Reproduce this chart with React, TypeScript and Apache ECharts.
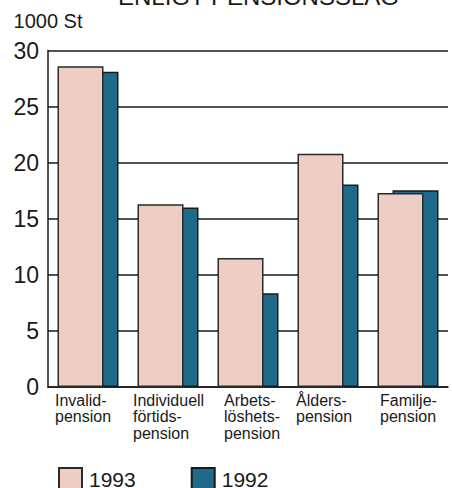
import React, { useEffect, useRef } from "react";
import * as echarts from "echarts";

const titleText = "ENLIGT PENSIONSSLAG";
const yAxisName = "1000 St";
const categories = [
  "Invalid-\npension",
  "Individuell\nförtids-\npension",
  "Arbets-\nlöshets-\npension",
  "Ålders-\npension",
  "Familje-\npension",
];
const seriesNames = ["1993", "1992"];
const values1993 = [28.6, 16.3, 11.5, 20.8, 17.3];
const values1992 = [28.1, 16.0, 8.35, 18.05, 17.55];

const FONT = '"Liberation Sans", Arial, Helvetica, sans-serif';
const labelBoxWidths = [66, 70, 48, 64, 56];

export default function App() {
  const ref = useRef<HTMLDivElement>(null);
  useEffect(() => {
    if (!ref.current) return;
    const chart = echarts.init(ref.current, undefined, { renderer: "svg" });
    const rich: Record<string, any> = {};
    labelBoxWidths.forEach((w, i) => {
      rich["a" + i] = {
        width: w,
        align: "left",
        fontFamily: FONT,
        fontSize: 16,
        lineHeight: 16.5,
        color: "#1a1a1a",
      };
    });
    chart.setOption({
      animation: false,
      backgroundColor: "#ffffff",
      textStyle: { fontFamily: FONT },
      title: {
        text: titleText,
        left: 118,
        top: -16,
        padding: 0,
        textStyle: { fontFamily: FONT, fontSize: 24, fontWeight: "normal", color: "#1a1a1a" },
      },
      legend: {
        left: 58,
        top: 467,
        padding: 0,
        itemWidth: 23,
        itemHeight: 23,
        itemGap: 55,
        icon: "rect",
        textStyle: {
          fontFamily: FONT,
          fontSize: 21,
          lineHeight: 18,
          color: "#1a1a1a",
          padding: [0, 0, 0, 2],
        },
        data: seriesNames,
      },
      grid: { left: 48, right: 4, top: 50.5, bottom: 101, containLabel: false },
      xAxis: {
        type: "category",
        data: categories,
        axisLine: { show: true, lineStyle: { color: "#1a1a1a", width: 1.5 } },
        axisTick: { show: false },
        axisLabel: {
          interval: 0,
          margin: 5,
          formatter: (v: string, i: number) =>
            v.split("\n").map((l) => `{a${i}|${l}}`).join("\n"),
          rich,
        },
      },
      yAxis: {
        type: "value",
        min: 0,
        max: 30,
        interval: 5,
        name: yAxisName,
        nameLocation: "end",
        nameGap: 20,
        nameTextStyle: { fontFamily: FONT, fontSize: 20, color: "#1a1a1a", align: "center" },
        axisLine: { show: true, lineStyle: { color: "#1a1a1a", width: 1.5 } },
        axisTick: { show: false },
        axisLabel: { margin: 9, fontFamily: FONT, fontSize: 23, color: "#1a1a1a" },
        splitLine: { show: true, lineStyle: { color: "#1a1a1a", width: 1.5 } },
      },
      series: [
        {
          name: seriesNames[0],
          type: "bar",
          data: values1993,
          barWidth: 46,
          barGap: "-67.4%",
          z: 3,
          itemStyle: { color: "#edcdc4", borderColor: "#2a2a2a", borderWidth: 1.5 },
        },
        {
          name: seriesNames[1],
          type: "bar",
          data: values1992,
          barWidth: 46,
          barGap: "-67.4%",
          z: 2,
          itemStyle: { color: "#1f6a8b", borderColor: "#1a1a1a", borderWidth: 1.5 },
        },
      ],
    });
    return () => chart.dispose();
  }, []);
  return <div ref={ref} style={{ width: 452, height: 488, position: "absolute", left: 0, top: 0 }} />;
}
